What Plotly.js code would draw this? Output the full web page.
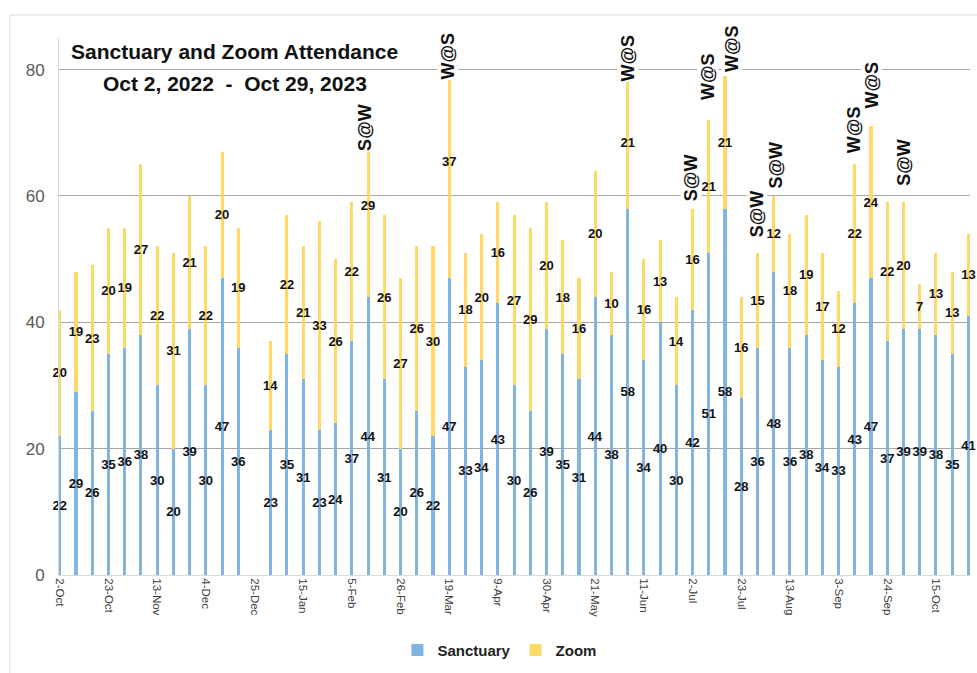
<!DOCTYPE html>
<html><head><meta charset="utf-8">
<script src="https://cdn.plot.ly/plotly-3.0.1.min.js"></script>
<style>html,body{margin:0;padding:0;background:#fff}#chart{width:977px;height:673px}</style>
</head><body><div id="chart"></div>
<script>
const weeks = ['2-Oct','9-Oct','16-Oct','23-Oct','30-Oct','6-Nov','13-Nov','20-Nov','27-Nov','4-Dec','11-Dec','18-Dec','25-Dec','1-Jan','8-Jan','15-Jan','22-Jan','29-Jan','5-Feb','12-Feb','19-Feb','26-Feb','5-Mar','12-Mar','19-Mar','26-Mar','2-Apr','9-Apr','16-Apr','23-Apr','30-Apr','7-May','14-May','21-May','28-May','4-Jun','11-Jun','18-Jun','25-Jun','2-Jul','9-Jul','16-Jul','23-Jul','30-Jul','6-Aug','13-Aug','20-Aug','27-Aug','3-Sep','10-Sep','17-Sep','24-Sep','1-Oct','8-Oct','15-Oct','22-Oct','29-Oct'];
const sanctuary = [22,29,26,35,36,38,30,20,39,30,47,36,null,23,35,31,23,24,37,44,31,20,26,22,47,33,34,43,30,26,39,35,31,44,38,58,34,40,30,42,51,58,28,36,48,36,38,34,33,43,47,37,39,39,38,35,41];
const zoomAtt = [20,19,23,20,19,27,22,31,21,22,20,19,null,14,22,21,33,26,22,29,26,27,26,30,37,18,20,16,27,29,20,18,16,20,10,21,16,13,14,16,21,21,16,15,12,18,19,17,12,22,24,22,20,7,13,13,13];
const tickWeeks = ['2-Oct','23-Oct','13-Nov','4-Dec','25-Dec','15-Jan','5-Feb','26-Feb','19-Mar','9-Apr','30-Apr','21-May','11-Jun','2-Jul','23-Jul','13-Aug','3-Sep','24-Sep','15-Oct'];
const noteWeeks = ['12-Feb','19-Mar','4-Jun','2-Jul','9-Jul','16-Jul','30-Jul','6-Aug','10-Sep','17-Sep','1-Oct'];
const noteText = ['S@W','W@S','W@S','S@W','W@S','W@S','S@W','S@W','W@S','W@S','S@W'];
const titleLines = ['Sanctuary and Zoom Attendance', 'Oct 2, 2022\u00a0\u00a0-\u00a0\u00a0Oct 29, 2023'];

// annotation placement (px) for the rotated notes, relative to bar top
const noteYShift = [-14, -12, 18, 31, 44, 27, 39, 31, 35, 41, 40];
const noteXShift = [-3, -1, 0, -2, -1, 7, -1, 2, 0, 1, 1];

const total = weeks.map((w, i) => (sanctuary[i] == null ? null : sanctuary[i] + zoomAtt[i]));
const FONT = 'Liberation Sans, Arial, sans-serif';
const labelFont = {family: FONT, size: 13, color: '#111', weight: 'bold'};

const traces = [
  {type: 'bar', name: 'Sanctuary', x: weeks, y: sanctuary, width: 0.19,
   marker: {color: '#80B4E2'},
   text: sanctuary.map(v => v == null ? '' : String(v)),
   textposition: 'inside', insidetextanchor: 'middle', textangle: 0, constraintext: 'none',
   textfont: labelFont, insidetextfont: labelFont, cliponaxis: false, hoverinfo: 'none'},
  {type: 'bar', name: 'Zoom', x: weeks, y: zoomAtt, width: 0.19,
   marker: {color: '#FFD966'},
   text: zoomAtt.map(v => v == null ? '' : String(v)),
   textposition: 'inside', insidetextanchor: 'middle', textangle: 0, constraintext: 'none',
   textfont: labelFont, insidetextfont: labelFont, cliponaxis: false, hoverinfo: 'none'}
];

const annotations = noteWeeks.map((w, k) => {
  const i = weeks.indexOf(w);
  return {x: w, y: total[i], xref: 'x', yref: 'y', text: '<b>' + noteText[k] + '</b>',
    showarrow: false, textangle: -90, xanchor: 'center', yanchor: 'middle',
    yshift: noteYShift[k], xshift: noteXShift[k], bgcolor: '#ffffff', borderpad: 0,
    font: {family: FONT, size: 18, color: '#111'}};
});
annotations.push({xref: 'paper', yref: 'paper', x: 0.193, y: 0.974, xanchor: 'center', yanchor: 'middle',
  text: '<b>' + titleLines[0] + '</b>', showarrow: false,
  font: {family: FONT, size: 21, color: '#111'}});
annotations.push({xref: 'paper', yref: 'paper', x: 0.193, y: 0.916, xanchor: 'center', yanchor: 'middle',
  text: '<b>' + titleLines[1] + '</b>', showarrow: false,
  font: {family: FONT, size: 21, color: '#111'}});

const layout = {
  width: 977, height: 673,
  margin: {l: 59, r: 7, t: 38, b: 97},
  paper_bgcolor: '#ffffff', plot_bgcolor: '#ffffff',
  barmode: 'stack', showlegend: true,
  xaxis: {type: 'category', range: [-0.05, 56.1], tickmode: 'array', tickvals: tickWeeks, ticktext: tickWeeks,
    tickangle: 90, ticks: '', showgrid: false, showline: true, linecolor: '#D9D9D9', linewidth: 1,
    tickfont: {family: FONT, size: 11.5, color: '#404040'}, fixedrange: true},
  yaxis: {range: [0, 85], tickvals: [0, 20, 40, 60, 80], showgrid: true, gridcolor: '#A6A6A6', gridwidth: 1,
    zeroline: false, showline: true, linecolor: '#D9D9D9', ticks: '', ticklabelstandoff: 10,
    tickfont: {family: FONT, size: 17, color: '#595959'}, fixedrange: true},
  legend: {orientation: 'h', x: 0.484, xanchor: 'center', y: -0.138, yanchor: 'middle',
    font: {family: FONT, size: 15, color: '#222', weight: 'bold'}, traceorder: 'normal'},
  annotations: annotations,
  shapes: [
    {type: 'line', xref: 'paper', yref: 'paper', x0: -0.054, x1: -0.054, y0: 1.043, y1: -0.2, line: {color: '#D9D9D9', width: 1}},
    {type: 'line', xref: 'paper', yref: 'paper', x0: -0.054, x1: 1.05, y0: 1.043, y1: 1.043, line: {color: '#D9D9D9', width: 1}}
  ]
};

Plotly.newPlot('chart', traces, layout, {displayModeBar: false, staticPlot: true});
</script></body></html>
